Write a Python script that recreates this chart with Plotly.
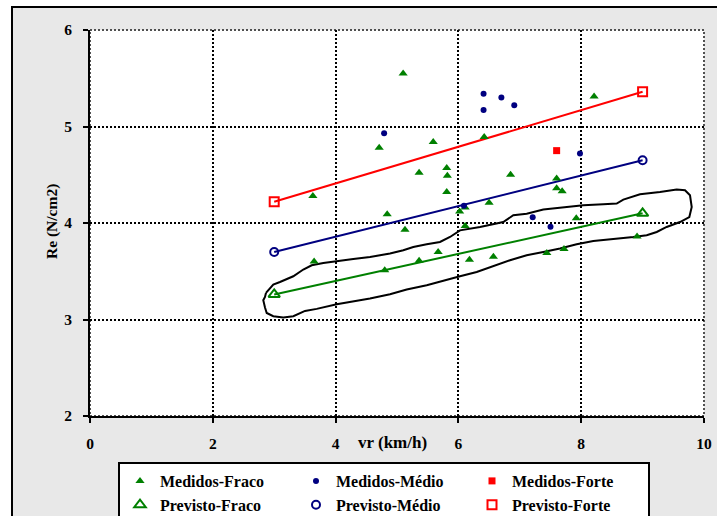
import plotly.graph_objects as go

# ---- data ----
fraco_x = [5.10, 8.21, 6.42, 5.59, 4.71, 5.36, 5.81, 5.82, 6.85, 3.63, 5.81, 7.60, 7.60, 7.69, 6.50,
           4.84, 6.02, 6.11, 5.13, 6.11, 7.92, 8.91, 3.65, 4.80, 5.67, 5.36, 6.18, 6.57, 7.44, 7.72]
fraco_y = [5.55, 5.31, 4.89, 4.84, 4.78, 4.52, 4.57, 4.49, 4.50, 4.28, 4.32, 4.46, 4.36, 4.33, 4.21,
           4.09, 4.12, 4.16, 3.93, 3.97, 4.05, 3.86, 3.60, 3.51, 3.70, 3.61, 3.62, 3.65, 3.69, 3.73]

medio_x = [4.79, 6.41, 6.41, 6.70, 6.91, 7.98, 6.09, 7.21, 7.50]
medio_y = [4.93, 5.34, 5.17, 5.30, 5.22, 4.72, 4.18, 4.06, 3.96]

forte_x = [7.60]
forte_y = [4.75]

prev_x = [3, 9]
prev_fraco_y = [3.26, 4.10]
prev_medio_y = [3.70, 4.65]
prev_forte_y = [4.22, 5.36]

contour_x = [2.866, 2.985, 3.094, 3.311, 3.474, 3.611, 3.800, 4.018, 4.288, 4.560, 4.886, 5.103,
             5.265, 5.484, 5.700, 5.863, 6.026, 6.352, 6.731, 6.894, 7.112, 7.383, 7.655, 8.034,
             8.360, 8.578, 8.686, 8.958, 9.283, 9.555, 9.691, 9.772, 9.800, 9.761, 9.609, 9.392,
             9.230, 9.067, 8.849, 8.578, 8.197, 7.926, 7.655, 7.383, 7.112, 6.840, 6.568, 6.298,
             6.026, 5.754, 5.484, 5.158, 4.886, 4.560, 4.235, 4.018, 3.692, 3.502, 3.311, 3.148,
             2.985, 2.878, 2.850, 2.822, 2.850, 2.866]
contour_y = [3.275, 3.362, 3.389, 3.448, 3.518, 3.562, 3.586, 3.607, 3.627, 3.648, 3.683, 3.717,
             3.752, 3.779, 3.803, 3.855, 3.924, 3.959, 4.010, 4.080, 4.097, 4.139, 4.159, 4.183,
             4.194, 4.201, 4.242, 4.297, 4.321, 4.346, 4.339, 4.287, 4.166, 4.062, 4.010, 3.959,
             3.907, 3.873, 3.855, 3.839, 3.814, 3.780, 3.735, 3.700, 3.666, 3.614, 3.552, 3.493,
             3.448, 3.400, 3.355, 3.311, 3.262, 3.217, 3.179, 3.158, 3.110, 3.089, 3.034, 3.021,
             3.034, 3.068, 3.124, 3.200, 3.234, 3.275]

x_ticks = [0, 2, 4, 6, 8, 10]
y_ticks = [2, 3, 4, 5, 6]

GREEN = "#008000"
NAVY = "#000080"
RED = "#FF0000"
FONT = "Liberation Serif, Times New Roman, serif"

fig = go.Figure()

# contour (no legend)
fig.add_trace(go.Scatter(x=contour_x, y=contour_y, mode="lines",
                         line=dict(color="black", width=2), showlegend=False, hoverinfo="skip"))

# prediction lines (no legend, markers drawn by separate traces)
for yy, col in [(prev_fraco_y, GREEN), (prev_medio_y, NAVY), (prev_forte_y, RED)]:
    fig.add_trace(go.Scatter(x=prev_x, y=yy, mode="lines", line=dict(color=col, width=2),
                             showlegend=False, hoverinfo="skip"))

fig.add_trace(go.Scatter(x=fraco_x, y=fraco_y, mode="markers", name="Medidos-Fraco",
                         marker=dict(symbol="triangle-up", color=GREEN, size=8)))
fig.add_trace(go.Scatter(x=medio_x, y=medio_y, mode="markers", name="Medidos-Médio",
                         marker=dict(symbol="circle", color=NAVY, size=6)))
fig.add_trace(go.Scatter(x=forte_x, y=forte_y, mode="markers", name="Medidos-Forte",
                         marker=dict(symbol="square", color=RED, size=7)))
fig.add_trace(go.Scatter(x=prev_x, y=prev_fraco_y, mode="markers", name="Previsto-Fraco",
                         marker=dict(symbol="triangle-up-open", color=GREEN, size=10,
                                     line=dict(width=2, color=GREEN))))
fig.add_trace(go.Scatter(x=prev_x, y=prev_medio_y, mode="markers", name="Previsto-Médio",
                         marker=dict(symbol="circle-open", color=NAVY, size=8,
                                     line=dict(width=2, color=NAVY))))
fig.add_trace(go.Scatter(x=prev_x, y=prev_forte_y, mode="markers", name="Previsto-Forte",
                         marker=dict(symbol="square-open", color=RED, size=9,
                                     line=dict(width=2, color=RED))))

L, R, T, B = 90, 13, 30, 100
W, H = 717, 516
pw = W - L - R
ph = H - T - B

def px_x(p):
    return (p - L) / pw

def px_y(p):
    return (H - B - p) / ph

shapes = [
    # outer gray chart area with black border
    dict(type="rect", xref="paper", yref="paper", layer="below",
         x0=px_x(12), x1=px_x(722), y0=px_y(522), y1=px_y(7),
         fillcolor="#E8E8E8", line=dict(color="black", width=2)),
    # white plot area
    dict(type="rect", xref="x domain", yref="y domain", layer="below",
         x0=0, x1=1, y0=0, y1=1, fillcolor="white",
         line=dict(color="#505050", width=2, dash="2px,2px")),
]

fig.update_layout(
    width=W, height=H,
    margin=dict(l=L, r=R, t=T, b=B, autoexpand=False),
    paper_bgcolor="white",
    plot_bgcolor="rgba(0,0,0,0)",
    font=dict(family=FONT, color="black", size=15, weight="bold"),
    shapes=shapes,
    xaxis=dict(range=[0, 10], tickvals=x_ticks, ticks="outside", ticklen=5, tickwidth=1.5,
               tickcolor="black", showline=True, linecolor="black", linewidth=2,
               showgrid=True, gridcolor="black", gridwidth=1.5, griddash="2px,2px",
               zeroline=False, ticklabelstandoff=7,
               tickfont=dict(family=FONT, size=15.5, weight="bold")),
    yaxis=dict(range=[2, 6], tickvals=y_ticks, ticks="outside", ticklen=5, tickwidth=1.5,
               tickcolor="black", showline=True, linecolor="black", linewidth=2,
               showgrid=True, gridcolor="black", gridwidth=1.5, griddash="2px,2px",
               zeroline=False, ticklabelstandoff=8,
               tickfont=dict(family=FONT, size=15.5, weight="bold")),
    showlegend=True,
    legend=dict(orientation="h", x=px_x(118), y=px_y(462), xanchor="left", yanchor="top",
                bgcolor="white", bordercolor="black", borderwidth=2,
                font=dict(family=FONT, size=16, weight="bold"),
                entrywidth=131, entrywidthmode="pixels", itemwidth=30,
                traceorder="normal"),
    annotations=[
        dict(text="vr (km/h)", xref="paper", yref="paper", x=px_x(392), y=px_y(442),
             xanchor="center", yanchor="middle", showarrow=False,
             font=dict(family=FONT, size=17, weight="bold")),
        dict(text="Re (N/cm2)", xref="paper", yref="paper", x=px_x(52), y=px_y(222),
             xanchor="center", yanchor="middle", textangle=-90, showarrow=False,
             font=dict(family=FONT, size=15.5, weight="bold")),
    ],
)

fig.write_html("out.html", config={"displayModeBar": False},
               post_script="document.body.style.margin='0px';")
